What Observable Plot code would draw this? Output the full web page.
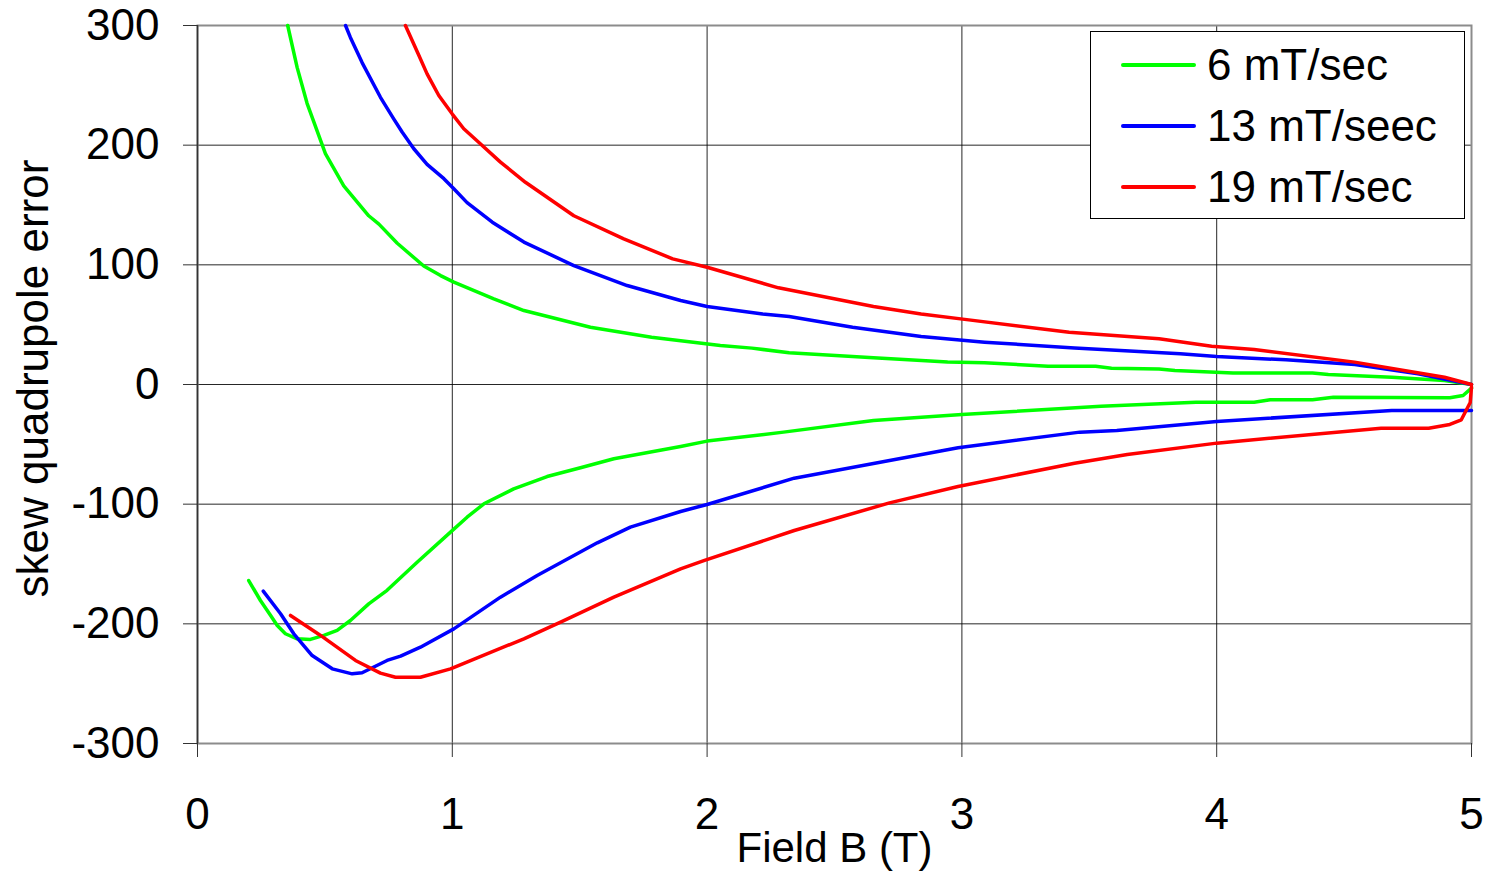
<!DOCTYPE html>
<html>
<head>
<meta charset="utf-8">
<script src="https://cdn.jsdelivr.net/npm/d3@7"></script>
<script src="https://cdn.jsdelivr.net/npm/@observablehq/plot@0.6"></script>
<style>
  html, body { margin: 0; padding: 0; background: #fff; }
  #wrap { position: relative; width: 1488px; height: 871px; font-family: "Liberation Sans", Arial, sans-serif; }
  #legend { position: absolute; left: 1090px; top: 31px; width: 375px; height: 188px; border: 1px solid #000; background: #fff; box-sizing: border-box; }
  .item { position: absolute; left: 0; height: 40px; display: flex; align-items: center; }
  .swatch { width: 75px; height: 3.5px; margin-left: 30px; margin-right: 11px; border-radius: 2px; }
  .lab { font-size: 44px; color: #000; white-space: nowrap; }
</style>
</head>
<body>
<div id="wrap"></div>
<script>
// Series labels and colours (legend order)
const rateLabels = ["6 mT/sec", "13 mT/seec", "19 mT/sec"];
const rateColors = ["#00ff00", "#0000ff", "#ff0000"];

// Axis ticks
const xTicks = [0, 1, 2, 3, 4, 5];
const yTicks = [-300, -200, -100, 0, 100, 200, 300];

// [Field B (T), skew quadrupole error] — upper (ramp-up) branches
const green6Upper = [[0.354,300],[0.391,265],[0.43,235],[0.502,193],[0.574,166],[0.672,141],[0.712,134],[0.784,118],[0.888,99],[0.954,91],[1.006,85.5],[1.163,71.6],[1.281,61.8],[1.542,47.9],[1.782,39.5],[2.052,32.6],[2.176,30.4],[2.322,26.5],[2.653,22.3],[2.944,18.7],[3.089,18.1],[3.338,15.3],[3.525,15.3],[3.587,13.6],[3.774,13],[3.836,11.7],[4.064,9.7],[4.376,9.7],[4.438,8.4],[4.687,6.1],[4.894,3.3],[5.0,0]];
const blue13Upper = [[0.581,300],[0.60,290],[0.646,269],[0.718,240],[0.770,222],[0.803,211],[0.849,197],[0.901,184],[0.967,172],[1.006,163.5],[1.058,152],[1.157,135.6],[1.281,119],[1.477,99.4],[1.686,82.7],[1.896,70.2],[2.0,65.2],[2.218,59],[2.322,56.8],[2.571,47.9],[2.84,40.1],[3.089,35.4],[3.442,30.4],[3.857,25.6],[4.0,23.4],[4.272,20.6],[4.542,16.7],[4.79,8.9],[5.0,0]];
const red19Upper = [[0.816,300],[0.869,275],[0.901,259.6],[0.947,241.5],[1.0,226],[1.045,213.7],[1.111,201],[1.189,185.8],[1.287,169],[1.477,141],[1.673,121.7],[1.865,105],[2.0,98],[2.28,80.8],[2.653,65.2],[2.84,59],[3.027,54],[3.421,43.7],[3.774,38.2],[3.98,32],[4.147,29.2],[4.541,18.7],[4.894,6.1],[5.0,0]];

// lower (ramp-down) branches
const green6Lower = [[0.201,-163.8],[0.247,-180.5],[0.287,-193],[0.313,-201.4],[0.345,-208.3],[0.391,-212.5],[0.443,-213],[0.496,-209.7],[0.548,-205.5],[0.60,-197.2],[0.672,-183.3],[0.744,-172],[0.862,-148.5],[0.993,-123.4],[1.058,-110.9],[1.124,-99.7],[1.241,-87.2],[1.372,-76.9],[1.503,-69.6],[1.634,-62.1],[1.896,-51.8],[2.0,-47.3],[2.3,-39.8],[2.653,-30.1],[3.0,-25.1],[3.546,-18.1],[3.919,-14.8],[4.147,-14.8],[4.21,-12.8],[4.376,-12.8],[4.458,-10.6],[4.915,-11.1],[4.967,-9.2],[5.0,-3]];
const blue13Lower = [[0.258,-172.7],[0.326,-191.6],[0.378,-208.3],[0.45,-226.5],[0.529,-237.6],[0.607,-241.8],[0.646,-240.9],[0.744,-230.6],[0.797,-227],[0.875,-219.5],[1.006,-204.2],[1.189,-177.7],[1.333,-159.6],[1.569,-132.3],[1.699,-119.2],[1.896,-106.1],[2.0,-100.3],[2.342,-78.3],[2.985,-52.9],[3.463,-39.8],[3.608,-38.4],[4.0,-30.9],[4.687,-21.7],[5.0,-21.7]];
const red19Lower = [[0.365,-193],[0.483,-209.7],[0.62,-230.6],[0.718,-241.2],[0.777,-244.6],[0.875,-244.6],[0.993,-237.6],[1.281,-212.5],[1.425,-198.6],[1.634,-177.7],[1.896,-154],[1.99,-147],[2.342,-122],[2.716,-98.9],[2.985,-85.2],[3.442,-65.8],[3.649,-58.5],[4.0,-49],[4.645,-36.5],[4.832,-36.5],[4.915,-33.4],[4.96,-29.5],[4.995,-15],[5.0,-2]];

const branches = [
  [rateLabels[0], "up", green6Upper], [rateLabels[0], "down", green6Lower],
  [rateLabels[1], "up", blue13Upper], [rateLabels[1], "down", blue13Lower],
  [rateLabels[2], "up", red19Upper], [rateLabels[2], "down", red19Lower]
];
const table = branches.flatMap(([rate, branch, pts]) =>
  pts.map(([B, v]) => ({B, v, rate, key: rate + "-" + branch})));

const font = "Liberation Sans, Arial, sans-serif";

const chart = Plot.plot({
  width: 1488,
  height: 871,
  marginLeft: 197,
  marginRight: 17,
  marginTop: 25,
  marginBottom: 128,
  style: {fontFamily: font, fontSize: "44px", background: "#fff", color: "#000"},
  x: {domain: [0, 5]},
  y: {domain: [-300, 300]},
  color: {domain: rateLabels, range: rateColors},
  marks: [
    Plot.gridX(xTicks, {stroke: "#000", strokeOpacity: 0.85, strokeWidth: 1}),
    Plot.gridY(yTicks, {stroke: "#000", strokeOpacity: 0.85, strokeWidth: 1}),
    Plot.frame({stroke: "#8c8c8c", strokeWidth: 2}),
    Plot.ruleX([0], {stroke: "#333", strokeWidth: 1.5}),
    Plot.axisX({ticks: xTicks, tickSize: 14, tickPadding: 40, tickFormat: d => `${d}`, label: null, fontSize: 44, stroke: "#333"}),
    Plot.axisY({ticks: yTicks, tickSize: 14, tickPadding: 24, tickFormat: d => `${d}`, label: null, fontSize: 44, stroke: "#333"}),
    Plot.line(table, {x: "B", y: "v", z: "key", stroke: "rate", strokeWidth: 3.5, curve: "linear"}),
    Plot.text(["Field B (T)"], {frameAnchor: "bottom", dy: 105, lineAnchor: "middle", textAnchor: "middle", fontSize: 42, fill: "#000"}),
    Plot.text(["skew quadrupole error"], {frameAnchor: "left", rotate: -90, dx: -164, dy: -6, lineAnchor: "middle", textAnchor: "middle", fontSize: 44, fill: "#000"})
  ]
});

const wrap = document.getElementById("wrap");
wrap.appendChild(chart);

// Legend overlay inside the plot area (top right)
const legend = document.createElement("div");
legend.id = "legend";
rateLabels.forEach((lab, i) => {
  const item = document.createElement("div");
  item.className = "item";
  item.style.top = (13 + i * 61) + "px";
  const sw = document.createElement("div");
  sw.className = "swatch";
  sw.style.background = rateColors[i];
  const t = document.createElement("span");
  t.className = "lab";
  t.textContent = lab;
  item.appendChild(sw);
  item.appendChild(t);
  legend.appendChild(item);
});
wrap.appendChild(legend);
</script>
</body>
</html>
